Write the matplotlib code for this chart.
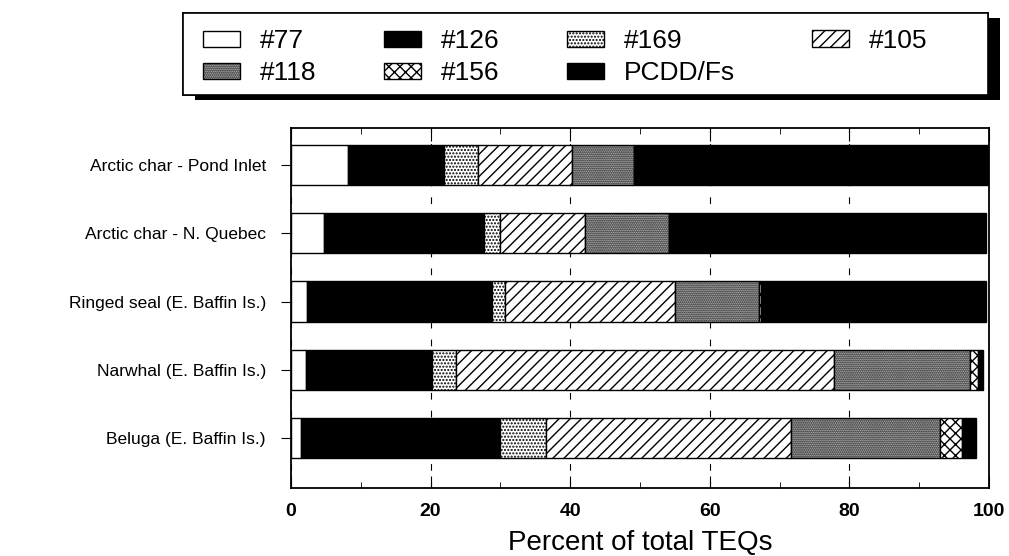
import numpy as np
import matplotlib.pyplot as plt
import matplotlib.patheffects as pe
from matplotlib.patches import Patch, Rectangle
from matplotlib.ticker import MultipleLocator

plt.rcParams['font.family'] = ['Liberation Sans', 'DejaVu Sans']
plt.rcParams['hatch.linewidth'] = 1.0

# rows, bottom to top
species = ['Beluga (E. Baffin Is.)', 'Narwhal (E. Baffin Is.)',
           'Ringed seal (E. Baffin Is.)', 'Arctic char - N. Quebec',
           'Arctic char - Pond Inlet']

# percent of total TEQs per congener group (same row order)
pcb77 = [1.4, 2.1, 2.3, 4.7, 8.1]
pcb126 = [28.6, 18.1, 26.5, 22.9, 13.8]
pcb169 = [6.5, 3.4, 1.8, 2.3, 4.9]
pcb105 = [35.1, 54.2, 24.4, 12.2, 13.4]
pcb118 = [21.4, 19.5, 12.0, 12.1, 9.0]
pcb156 = [3.1, 1.1, 0.3, 0.0, 0.0]
pcdd = [2.1, 0.8, 32.2, 45.4, 50.8]

groups = ['#77', '#126', '#169', '#105', '#118', '#156', 'PCDD/Fs']
values = [pcb77, pcb126, pcb169, pcb105, pcb118, pcb156, pcdd]
faces = ['white', 'black', 'white', 'white', '#cfcfcf', 'white', 'black']
hatches = [None, None, '.....', '///', '........', 'xxx', None]

fig = plt.figure(figsize=(10.09, 5.56), dpi=100)
ax = fig.add_axes([0.2884, 0.1223, 0.6918, 0.6475])

y = np.arange(len(species))
left = np.zeros(len(species))
handles = {}
for name, vals, fc, h in zip(groups, values, faces, hatches):
    ax.barh(y, vals, left=left, height=0.59, color=fc, hatch=h,
            edgecolor='black', linewidth=1.0, zorder=3)
    left += np.array(vals)
    handles[name] = Patch(facecolor=fc, hatch=h, edgecolor='black',
                          linewidth=1.0, label=name)

ax.set_xlim(0, 100)
ax.set_ylim(-0.73, 4.54)
ax.xaxis.set_major_locator(MultipleLocator(20))
ax.xaxis.set_minor_locator(MultipleLocator(10))
ax.tick_params(axis='x', which='both', direction='in', top=True,
               labelsize=14, pad=11)
ax.tick_params(axis='x', which='major', length=9)
ax.tick_params(axis='x', which='minor', length=4.5)
for t in ax.get_xticklabels():
    t.set_fontweight('bold')
ax.set_yticks(y)
ax.set_yticklabels(species, fontsize=12.5)
ax.tick_params(axis='y', direction='out', length=7, pad=11)
ax.grid(axis='x', which='major', linestyle=(0, (6, 10)), color='black',
        linewidth=0.8, zorder=0)
for s in ax.spines.values():
    s.set_linewidth(1.3)
ax.set_xlabel('Percent of total TEQs', fontsize=20, labelpad=7)

# legend box with heavy drop shadow
box = Rectangle((0.1814, 0.8291), 0.7978, 0.1475, transform=fig.transFigure,
                facecolor='white', edgecolor='black', linewidth=1.2,
                zorder=1)
box.set_path_effects([pe.withSimplePatchShadow(offset=(8.6, -3.6),
                                               shadow_rgbFace='black',
                                               alpha=1.0),
                      pe.Normal()])
fig.patches.append(box)

leg_kw = dict(fontsize=19, frameon=False, handlelength=1.4,
              handleheight=0.6, handletextpad=0.76, borderpad=0,
              borderaxespad=0, labelspacing=0.3)
first = ['#77', '#118', '#126', '#156', '#169', 'PCDD/Fs']
leg1 = fig.legend([handles[k] for k in first], first, ncol=3,
                  loc='center left', bbox_to_anchor=(0.2012, 0.897),
                  columnspacing=2.55, **leg_kw)
leg2 = fig.legend([handles['#105']], ['#105'], loc='center left',
                  bbox_to_anchor=(0.8048, 0.927), **leg_kw)
leg1.set_zorder(5)
leg2.set_zorder(5)

fig.savefig('out.png', dpi=100)
